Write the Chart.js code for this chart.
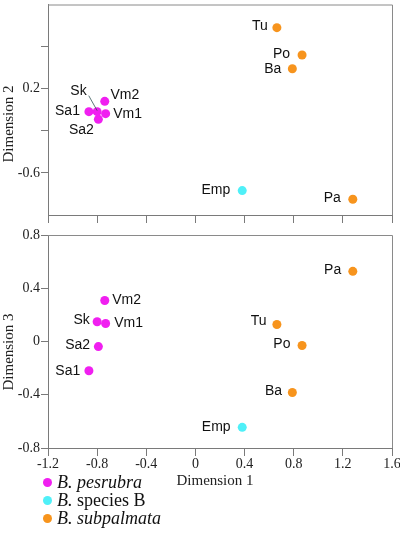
<!DOCTYPE html>
<html>
<head>
<meta charset="utf-8">
<script src="https://cdn.jsdelivr.net/npm/chart.js@4.4.0/dist/chart.umd.min.js"></script>
<style>
  html, body { margin: 0; padding: 0; background: #fff; }
  #wrap { position: relative; width: 400px; height: 533px; overflow: hidden; }
  #c1 { position: absolute; left: 0; top: 0; }
  #c2 { position: absolute; left: 0; top: 225px; }
  #legend { position: absolute; left: 0; top: 0; font-family: "Liberation Serif", "Times New Roman", serif; font-size: 18px; color: #111; }
  .li { position: absolute; left: 57px; white-space: nowrap; line-height: 18px; }
  .dot { position: absolute; width: 9px; height: 9px; border-radius: 50%; left: -14px; top: 5px; }
</style>
</head>
<body>
<div id="wrap">
  <canvas id="c1" width="400" height="225"></canvas>
  <canvas id="c2" width="400" height="275"></canvas>
  <div id="legend"></div>
</div>
<script>
// ---------- DATA ----------
const pesrubraNames = ['Sa1', 'Sa2', 'Sk', 'Vm1', 'Vm2'];
const pesrubraDim1  = [-0.867, -0.790, -0.800, -0.731, -0.738];
const pesrubraDim2  = [-0.018, -0.091, -0.018, -0.037, 0.080];
const pesrubraDim3  = [-0.220, -0.038, 0.148, 0.135, 0.308];

const speciesBNames = ['Emp'];
const speciesBDim1  = [0.381];
const speciesBDim2  = [-0.768];
const speciesBDim3  = [-0.645];

const subpalmataNames = ['Tu', 'Po', 'Ba', 'Pa'];
const subpalmataDim1  = [0.663, 0.868, 0.789, 1.281];
const subpalmataDim2  = [0.780, 0.520, 0.390, -0.850];
const subpalmataDim3  = [0.128, -0.030, -0.383, 0.527];

const xTicks = [-1.2, -0.8, -0.4, 0, 0.4, 0.8, 1.2, 1.6];
const yTicksTop = [-0.6, -0.2, 0.2, 0.6];
const yTickLabelsTop = ['-0.6', '0.2'];
const yTicksBottom = [-0.8, -0.4, 0, 0.4, 0.8];

const legendLabels = [
  '<i>B. pesrubra</i>',
  '<i>B.</i> species B',
  '<i>B. subpalmata</i>'
];

// ---------- STYLE ----------
const colors = ['#f01ff0', '#4ff0f8', '#f7941d'];
const serif = '"Liberation Serif", "Times New Roman", serif';
const sans = '"Liberation Sans", Arial, sans-serif';
Chart.defaults.font.family = serif;

// label offsets (pixels) relative to point: [dx, dy, align]
const labelPosTop = {
  Tu: [-9, -2, 'right'], Po: [-12, -1, 'right'], Ba: [-11, 0, 'right'], Pa: [-12, -1, 'right'],
  Emp: [-12, 0, 'right'], Sa1: [-9, -1, 'right'], Sa2: [-4.5, 10.5, 'right'],
  Sk: [-10.5, -20.5, 'right'], Vm2: [5.7, -5.7, 'left'], Vm1: [7.6, 0, 'left']
};
const leaderTop = { Sk: [-8.4, -16, 0, -1] };
const labelPosBottom = {
  Pa: [-11.6, -1.4, 'right'], Vm2: [7.4, 0, 'left'], Sk: [-7.4, -1.3, 'right'], Vm1: [8.6, -0.7, 'left'],
  Tu: [-10.3, -3.3, 'right'], Sa2: [-8.3, -1, 'right'], Po: [-11.6, -1.7, 'right'], Sa1: [-8.7, 0, 'right'],
  Ba: [-10.3, -1.3, 'right'], Emp: [-11.6, 0, 'right']
};

function pts(xs, ys) { return xs.map((x, i) => ({ x: x, y: ys[i] })); }

function makeDatasets(dimY) {
  const sets = [
    [pesrubraNames, pesrubraDim1, dimY === 2 ? pesrubraDim2 : pesrubraDim3],
    [speciesBNames, speciesBDim1, dimY === 2 ? speciesBDim2 : speciesBDim3],
    [subpalmataNames, subpalmataDim1, dimY === 2 ? subpalmataDim2 : subpalmataDim3]
  ];
  return sets.map((s, i) => ({
    data: pts(s[1], s[2]),
    names: s[0],
    backgroundColor: colors[i],
    borderColor: colors[i],
    borderWidth: 0,
    pointRadius: 4.5,
    pointHoverRadius: 4.5
  }));
}

function labelsPlugin(posMap, leaders, title) {
  return {
    id: 'pointLabels',
    afterDraw(chart) {
      const ctx = chart.ctx;
      const a = chart.chartArea;
      ctx.save();
      // frame top/right
      ctx.strokeStyle = '#8a8a8a';
      ctx.lineWidth = 1;
      ctx.beginPath();
      ctx.moveTo(a.left, a.top + 0.5);
      ctx.lineTo(a.right + 0.5, a.top + 0.5);
      ctx.lineTo(a.right + 0.5, a.bottom);
      ctx.stroke();
      // labels
      ctx.font = '14px ' + sans;
      ctx.fillStyle = '#111';
      ctx.textBaseline = 'middle';
      chart.data.datasets.forEach((ds, di) => {
        const meta = chart.getDatasetMeta(di);
        meta.data.forEach((el, i) => {
          const name = ds.names[i];
          const p = posMap[name];
          ctx.textAlign = p[2];
          ctx.fillText(name, el.x + p[0], el.y + p[1]);
          const L = leaders[name];
          if (L) {
            ctx.strokeStyle = '#355';
            ctx.lineWidth = 0.8;
            ctx.beginPath();
            ctx.moveTo(el.x + L[0], el.y + L[1]);
            ctx.lineTo(el.x + L[2], el.y + L[3]);
            ctx.stroke();
          }
        });
      });
      // axis titles
      ctx.fillStyle = '#222';
      ctx.font = '15px ' + serif;
      ctx.textAlign = 'center';
      title.forEach(t => {
        ctx.save();
        ctx.translate(t.x, t.y);
        ctx.rotate(t.rot);
        ctx.fillText(t.text, 0, 0);
        ctx.restore();
      });
      ctx.restore();
    }
  };
}

function baseOptions(yTickVals, yLabelFn, xHeight, showXLabels, padTop) {
  return {
    responsive: false,
    animation: false,
    events: [],
    layout: { padding: { left: 0, right: 8, top: padTop, bottom: 0 } },
    plugins: { legend: { display: false }, tooltip: { enabled: false } },
    scales: {
      x: {
        type: 'linear', min: -1.2, max: 1.6,
        afterBuildTicks(s) { s.ticks = xTicks.map(v => ({ value: v })); },
        afterFit(s) { s.height = xHeight; s.paddingLeft = 0; s.paddingRight = 0; },
        grid: { drawOnChartArea: false, drawTicks: true, tickLength: 8, color: '#7a7a7a', tickWidth: 1 },
        border: { color: '#7a7a7a', width: 1 },
        ticks: {
          display: showXLabels, padding: 0, color: '#222',
          font: { family: serif, size: 14 },
          maxRotation: 0, autoSkip: false,
          callback: v => (Math.round(v * 10) / 10).toString()
        }
      },
      y: {
        type: 'linear',
        afterBuildTicks(s) { s.ticks = yTickVals.map(v => ({ value: v })); },
        afterFit(s) { s.width = 48; s.paddingTop = 0; s.paddingBottom = 0; },
        grid: { drawOnChartArea: false, drawTicks: true, tickLength: 7, color: '#7a7a7a', tickWidth: 1 },
        border: { color: '#7a7a7a', width: 1 },
        ticks: {
          padding: 1, color: '#222',
          font: { family: serif, size: 14 },
          autoSkip: false,
          callback: yLabelFn
        }
      }
    }
  };
}

// Top chart: Dimension 1 vs 2
const opt1 = baseOptions(yTicksTop, v => {
  const s = (Math.round(v * 10) / 10).toString();
  return yTickLabelsTop.includes(s) ? s : '';
}, 10, false, 2);
opt1.scales.y.min = -1.0; opt1.scales.y.max = 1.0;

new Chart(document.getElementById('c1'), {
  type: 'scatter',
  data: { datasets: makeDatasets(2) },
  options: opt1,
  plugins: [labelsPlugin(labelPosTop, leaderTop, [{ text: 'Dimension 2', x: 9, y: 124, rot: -Math.PI / 2 }])]
});

// Bottom chart: Dimension 1 vs 3
const opt2 = baseOptions(yTicksBottom, v => (Math.round(v * 10) / 10).toString(), 52, true, 10);
opt2.scales.y.min = -0.8; opt2.scales.y.max = 0.8;

new Chart(document.getElementById('c2'), {
  type: 'scatter',
  data: { datasets: makeDatasets(3) },
  options: opt2,
  plugins: [labelsPlugin(labelPosBottom, {}, [
    { text: 'Dimension 3', x: 9, y: 127, rot: -Math.PI / 2 },
    { text: 'Dimension 1', x: 215, y: 256, rot: 0 }
  ])]
});

// Legend
const lg = document.getElementById('legend');
const rowY = [483, 501, 519];
legendLabels.forEach((t, i) => {
  const d = document.createElement('div');
  d.className = 'li';
  d.style.top = (rowY[i] - 10) + 'px';
  d.innerHTML = '<span class="dot" style="background:' + colors[i] + '"></span>' + t;
  lg.appendChild(d);
});
</script>
</body>
</html>
